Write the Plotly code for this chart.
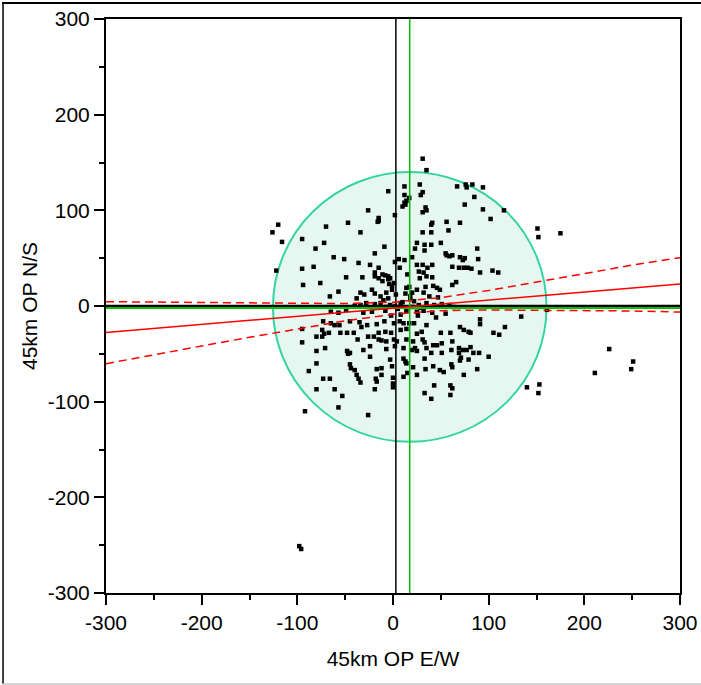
import plotly.graph_objects as go

# ---------------- data ----------------
ew = [31, 35, 12, 28, -5, 12, 31, 29, 67, 76, 77, 83, 94, 17, 14, 12, 10, 13, 34, 35, 31, 75, 85, 94,
      116, 102, -26, -15, -15, -16, 2, -47, -70, -34, -120, -126, -116, -95, -72, -81, 41, 40, 31, 40,
      56, 70, 58, 25, 33, 40, 23, 50, 33, 88, 55, 56, 59, 62, 70, 73, 75, 89, 151, 152, -9, -19, -62,
      -51, -36, -24, -15, 6, 2, 12, 7, 20, 25, 31, 41, 62, 69, 74, 78, 82, 91, 104, 110, 36, 27, 32,
      -95, -83, -122, -19, -11, -8, -5, -3, -15, -19, -32, -49, -4, 1, -1, -5, -11, -94, -76, -66, -57,
      -34, -22, -19, -13, -7, -1, 28, 35, 41, 14, 17, 25, 34, 42, 46, 49, 62, 13, 18, 32, 20,
      -40, -34, -28, -19, -13, -7, -3, 2, 8, 20, 27, 35, 43, 51, 59, 63, -49, -57, -65, -31, -8, 14,
      25, 32, 41, 161, -73, -65, -61, -56, -45, -35, -27, -17, -9, 1, 7, 11, 17, 22, 35, 70, 74, 79,
      91, 91, 117, 134, -95, -74, -67, -72, -55, -48, -41, -33, -26, -20, -15, -8, -2, 8, 14, 25, 30,
      50, 60, 81, 105, 111, -95, -80, -74, -37, -15, -12, -7, 1, 4, 14, 21, 31, 33, 42, 46, 51, 62,
      69, 73, 77, 81, 84, 90, 100, -80, -71, -48, -47, -45, -31, -24, -7, 2, 11, 20, 23, 25, 35, 40,
      51, 61, 69, 71, 79, 70, -80, -88, -73, -66, -45, -44, -40, -38, -36, -34, -24, -17, -12, -18,
      -17, -12, -3, -1, 0, 0, 0, 11, 13, 14, 15, 11, 21, 25, 33, 34, 42, 49, 53, 61, 62, 74, 88,
      -80, -61, -53, -57, -92, -19, -26, 33, 40, 43, 60, 62, 60, 140, 153, 152,
      175, 226, 251, 249, 211, -98, -96,
      -5, 8, 22, 45, -30, 5, 18, 26, -10, 38, 55, -22, 10, 29, 3, -2, 47, 66, -38, 15]
ns = [154, 142, 125, 127, 120, 116, 119, 116, 125, 127, 124, 127, 124, 113, 110, 108, 104, 106, 103,
      100, 98, 106, 114, 101, 100, 91, 100, 92, 89, 88, 95, 87, 83, 77, 85, 77, 67, 70, 66, 60, 87,
      85, 77, 77, 88, 87, 79, 66, 64, 64, 60, 66, 58, 60, 55, 53, 52, 53, 51, 48, 50, 49, 81, 72,
      62, 55, 51, 49, 45, 43, 40, 49, 46, 48, 40, 51, 43, 43, 43, 41, 40, 40, 40, 39, 35, 37, 35,
      40, 36, 35, 39, 41, 37, 35, 33, 32, 31, 29, 29, 31, 30, 30, 23, 24, 21, 28, 26, 22, 24, 10,
      15, 14, 17, 13, 10, 14, 17, 29, 31, 30, 19, 20, 17, 20, 21, 19, 17, 22, 13, 10, 14, 14,
      0, 1, 3, 2, 3, -1, 1, 0, 3, -1, 1, 3, 1, 2, 1, -1, -4, -7, -6, -7, -5, -5,
      -6, -5, -7, -4, -16, -18, -20, -20, -16, -17, -20, -19, -16, -18, -16, -18, -18, -18, -20, -22,
      -25, -27, -14, -19, -22, -11, -24, -25, -28, -29, -28, -28, -28, -22, -32, -32, -28, -27, -28,
      -25, -24, -29, -27, -28, -28, -28, -28, -30, -38, -32, -32, -35, -35, -36, -37, -35, -37, -35,
      -37, -35, -38, -41, -41, -39, -37, -44, -46, -46, -43, -49, -49, -53, -47, -44, -47, -50, -49,
      -46, -42, -45, -42, -44, -46, -44, -47, -44, -49, -49, -46, -49, -54, -56, -57, -60, -68, -76,
      -76, -61, -65, -67, -72, -76, -80, -53, -66, -65, -76, -79, -72, -56, -63, -75, -81, -85, -55,
      -58, -60, -70, -74, -64, -72, -55, -66, -63, -67, -69, -61, -64, -72, -66,
      -87, -87, -94, -106, -110, -87, -114, -91, -97, -83, -83, -86, -93, -85, -82, -91,
      76, -45, -58, -66, -70, -251, -254,
      8, -9, 5, -12, 12, -3, 7, -10, 6, 10, -8, -6, 4, -2, 12, -10, 9, 25, 8, 33]

# bivariate fit (solid) and its confidence curves (dashed), read at x = -300..300
fit_x = [-300, -250, -200, -150, -100, -50, 0, 50, 100, 150, 200, 250, 300]
fit_y = [-27.6, -23.4, -19.2, -14.9, -10.7, -6.5, -2.3, 1.9, 6.1, 10.3, 14.6, 18.8, 23.0]
band_upper = [4.5, 4.0, 3.4, 2.9, 2.5, 2.5, 4.0, 8.7, 16.3, 24.8, 33.8, 42.8, 50.5]
band_lower = [-60.3, -50.8, -41.8, -32.7, -23.9, -15.5, -8.6, -4.9, -4.1, -4.2, -4.6, -5.2, -6.3]

# reference lines: zero lines and means
zero_x = [3]
zero_y = [0]
mean_x = [17.5]
mean_y = [-2]

# density circle
circle_cx = [17.5]
circle_cy = [-1]
circle_rx = [143]
circle_ry = [141]

tick_vals = [-300, -200, -100, 0, 100, 200, 300]
tick_text = ["-300", "-200", "-100", "0", "100", "200", "300"]
axis_range = [-300, 300]

FONT = "Liberation Sans, Arial, sans-serif"

fig = go.Figure()

# circle as a shape (below data)
fig.add_shape(type="circle", xref="x", yref="y",
              x0=circle_cx[0] - circle_rx[0], x1=circle_cx[0] + circle_rx[0],
              y0=circle_cy[0] - circle_ry[0], y1=circle_cy[0] + circle_ry[0],
              fillcolor="#e6f7f1", line=dict(color="#35d4a2", width=2), layer="below")

# points
fig.add_trace(go.Scatter(x=ew, y=ns, mode="markers",
                         marker=dict(symbol="square", size=4.5, color="black",
                                     line=dict(width=0)),
                         hoverinfo="skip"))

# zero lines
fig.add_trace(go.Scatter(x=[zero_x[0], zero_x[0]], y=axis_range, mode="lines",
                         line=dict(color="black", width=1.5), hoverinfo="skip"))
fig.add_trace(go.Scatter(x=axis_range, y=[zero_y[0], zero_y[0]], mode="lines",
                         line=dict(color="black", width=2.5), hoverinfo="skip"))
# mean lines
fig.add_trace(go.Scatter(x=[mean_x[0], mean_x[0]], y=axis_range, mode="lines",
                         line=dict(color="#00c000", width=1.5), hoverinfo="skip"))
fig.add_trace(go.Scatter(x=axis_range, y=[mean_y[0], mean_y[0]], mode="lines",
                         line=dict(color="#00c000", width=2), hoverinfo="skip"))

# fit line and confidence curves
fig.add_trace(go.Scatter(x=fit_x, y=fit_y, mode="lines",
                         line=dict(color="#ff0000", width=1.5), hoverinfo="skip"))
fig.add_trace(go.Scatter(x=fit_x, y=band_upper, mode="lines",
                         line=dict(color="#ff0000", width=1.5, dash="8px,5px"), hoverinfo="skip"))
fig.add_trace(go.Scatter(x=fit_x, y=band_lower, mode="lines",
                         line=dict(color="#ff0000", width=1.5, dash="8px,5px"), hoverinfo="skip"))

axis_common = dict(range=axis_range, showgrid=False, zeroline=False, automargin=False,
                   showline=True, linecolor="black", linewidth=2, mirror=True,
                   ticks="outside", ticklen=10, tickwidth=2, tickcolor="black",
                   tickvals=tick_vals, ticktext=tick_text,
                   tickfont=dict(family=FONT, size=21, color="black"),
                   minor=dict(dtick=50, ticks="outside", ticklen=5, tickwidth=2,
                              tickcolor="black", showgrid=False))

fig.update_xaxes(**axis_common,
                 title=dict(text="45km OP E/W", font=dict(family=FONT, size=21, color="black"),
                            standoff=18))
fig.update_yaxes(**axis_common,
                 title=dict(text="45km OP N/S", font=dict(family=FONT, size=21, color="black"),
                            standoff=4))

# outer frame (top / left black, bottom grey)
fig.add_shape(type="line", xref="paper", yref="paper", x0=-0.181, x1=1.04, y0=1.028, y1=1.028,
              line=dict(color="black", width=2))
fig.add_shape(type="line", xref="paper", yref="paper", x0=-0.1794, x1=-0.1794, y0=1.028, y1=-0.1585,
              line=dict(color="black", width=1.5))
fig.add_shape(type="line", xref="paper", yref="paper", x0=-0.181, x1=1.04, y0=-0.1585, y1=-0.1585,
              line=dict(color="#c8c8c8", width=1.5))

fig.update_layout(width=701, height=685,
                  margin=dict(l=106, r=21, t=19, b=92, autoexpand=False),
                  paper_bgcolor="white", plot_bgcolor="white",
                  showlegend=False, hovermode=False,
                  font=dict(family=FONT, color="black"))

# remove the page's default body margin so the figure fills the window exactly
fig.write_html("out.html",
               config={"displayModeBar": False, "staticPlot": True},
               post_script="document.body.style.margin='0';document.body.style.overflow='hidden';")
